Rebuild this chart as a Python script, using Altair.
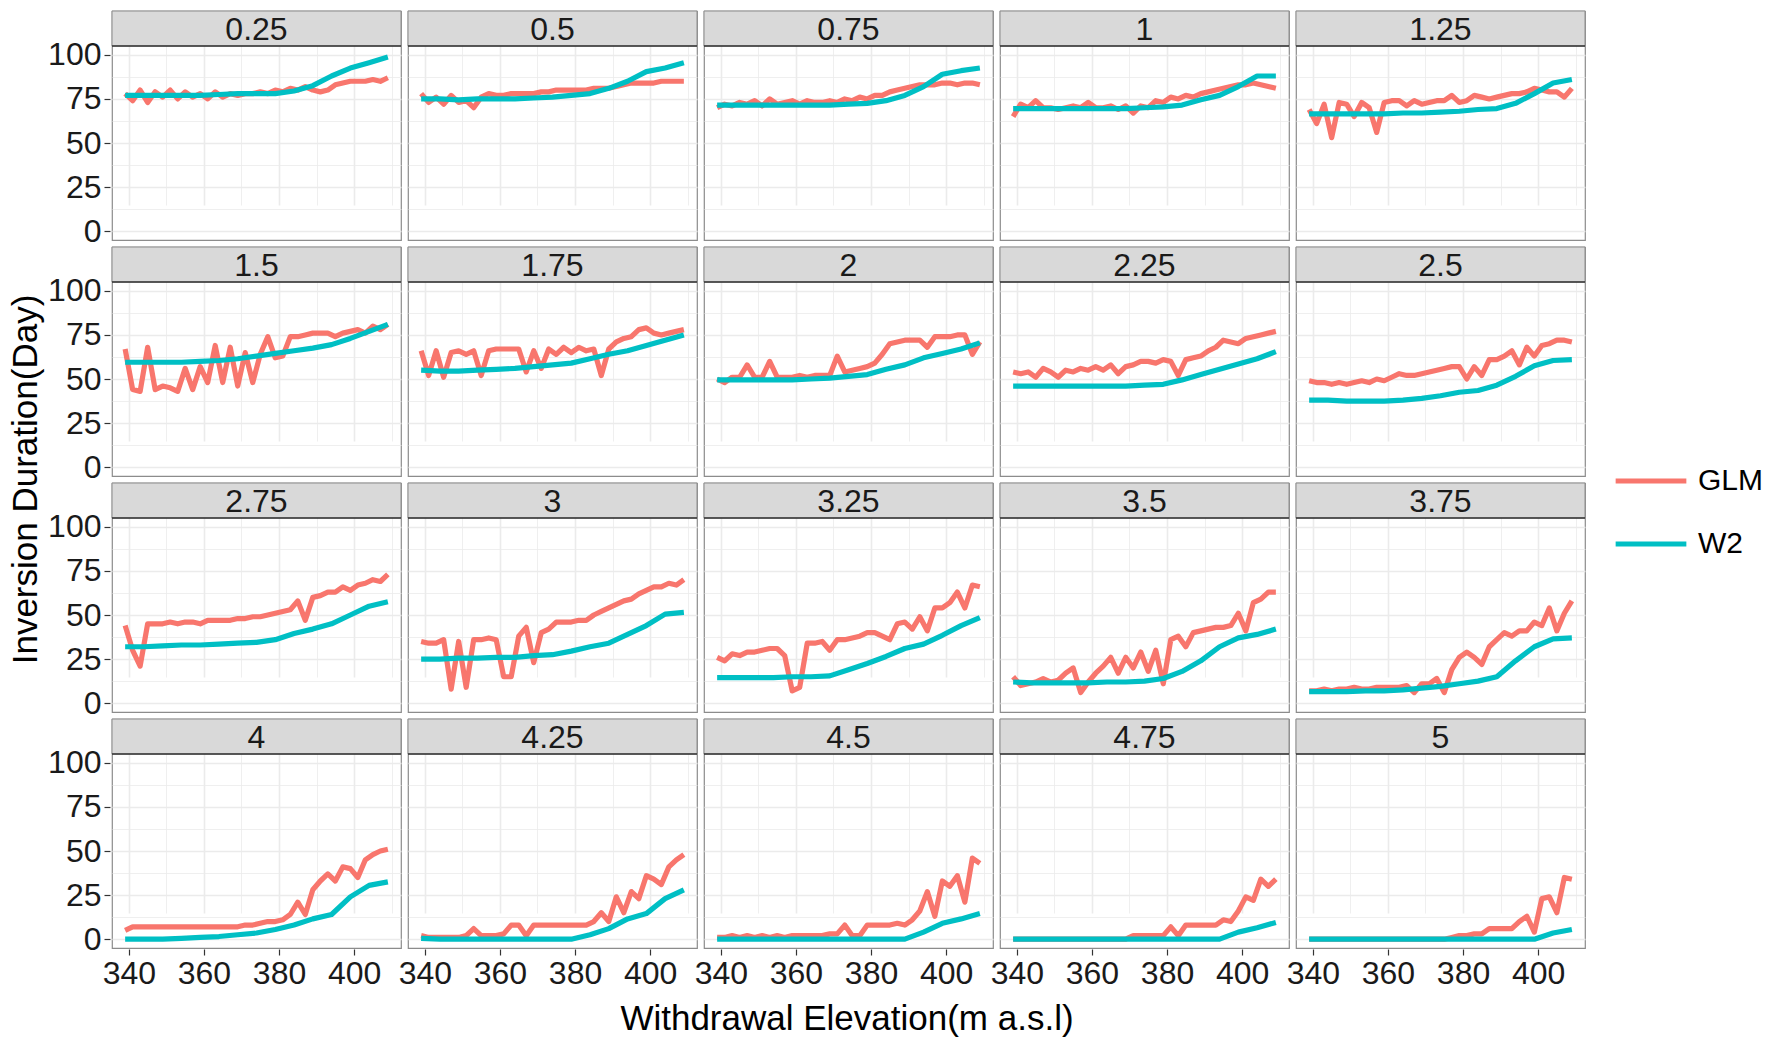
import altair as alt
import pandas as pd

PANELS = ["0.25", "0.5", "0.75", "1", "1.25", "1.5", "1.75", "2", "2.25", "2.5",
          "2.75", "3", "3.25", "3.5", "3.75", "4", "4.25", "4.5", "4.75", "5"]

ELEV_GLM = [339, 341, 343, 345, 347, 349, 351, 353, 355, 357, 359, 361, 363, 365, 367, 369, 371, 373,
            375, 377, 379, 381, 383, 385, 387, 389, 391, 393, 395, 397, 399, 401, 403, 405, 407, 409]
ELEV_W2 = [339, 344, 349, 354, 359, 364, 369, 374, 379, 384, 389, 394, 399, 404, 409]

GLM = {
    "0.25": [78, 74, 80, 73, 79, 76, 80, 75, 79, 76, 78, 75, 79, 76, 78, 77, 78, 78, 79, 78, 80, 79, 81, 80, 82, 80, 79, 80, 83, 84, 85, 85, 85, 86, 85, 87],
    "0.5": [78, 73, 76, 72, 77, 73, 74, 70, 76, 78, 77, 77, 78, 78, 78, 78, 79, 79, 80, 80, 80, 80, 80, 81, 81, 81, 82, 83, 84, 84, 84, 84, 85, 85, 85, 85],
    "0.75": [70, 72, 71, 73, 72, 74, 71, 75, 72, 73, 74, 72, 74, 73, 73, 74, 73, 75, 74, 76, 75, 77, 77, 79, 80, 81, 82, 83, 83, 83, 84, 84, 83, 84, 84, 83],
    "1": [65, 72, 70, 74, 70, 70, 69, 70, 71, 70, 73, 70, 70, 71, 69, 71, 67, 71, 70, 74, 73, 76, 75, 77, 76, 78, 79, 80, 81, 82, 83, 83, 84, 83, 82, 81],
    "1.25": [69, 61, 72, 53, 73, 72, 65, 73, 70, 56, 73, 74, 74, 71, 74, 72, 73, 74, 74, 77, 73, 74, 77, 76, 75, 76, 77, 78, 78, 79, 81, 80, 79, 79, 76, 81],
    "1.5": [67, 44, 43, 68, 44, 46, 45, 43, 56, 44, 57, 48, 69, 48, 68, 46, 65, 48, 64, 74, 62, 63, 74, 74, 75, 76, 76, 76, 74, 76, 77, 78, 76, 80, 78, 81],
    "1.75": [66, 52, 66, 51, 65, 66, 64, 66, 52, 66, 67, 67, 67, 67, 54, 66, 56, 67, 64, 68, 65, 68, 66, 67, 52, 67, 71, 73, 74, 78, 79, 76, 75, 76, 77, 78],
    "2": [50, 48, 51, 51, 58, 51, 51, 60, 51, 51, 51, 52, 51, 52, 52, 52, 63, 54, 55, 56, 57, 59, 64, 70, 71, 72, 72, 72, 68, 74, 74, 74, 75, 75, 64, 71],
    "2.25": [54, 53, 54, 51, 56, 54, 51, 55, 54, 56, 55, 57, 55, 58, 53, 57, 58, 60, 60, 59, 61, 60, 52, 61, 62, 63, 66, 68, 72, 71, 70, 73, 74, 75, 76, 77],
    "2.5": [49, 48, 48, 47, 48, 47, 48, 49, 48, 50, 49, 51, 53, 52, 52, 53, 54, 55, 56, 57, 57, 50, 57, 52, 61, 61, 63, 66, 58, 68, 63, 69, 70, 72, 72, 71],
    "2.75": [44, 30, 21, 45, 45, 45, 46, 45, 46, 46, 45, 47, 47, 47, 47, 48, 48, 49, 49, 50, 51, 52, 53, 58, 47, 60, 61, 63, 63, 66, 64, 67, 68, 70, 69, 73],
    "3": [35, 34, 34, 36, 8, 35, 9, 36, 36, 37, 36, 15, 15, 38, 43, 23, 40, 42, 46, 46, 46, 47, 47, 50, 52, 54, 56, 58, 59, 62, 64, 66, 66, 68, 67, 70],
    "3.25": [26, 24, 28, 27, 29, 29, 30, 31, 31, 27, 7, 9, 34, 34, 35, 30, 36, 36, 37, 38, 40, 40, 38, 36, 45, 46, 42, 49, 41, 54, 54, 57, 63, 54, 67, 66],
    "3.5": [15, 10, 11, 12, 14, 12, 13, 17, 20, 6, 12, 17, 21, 26, 17, 26, 20, 29, 18, 30, 11, 36, 38, 32, 40, 41, 42, 43, 43, 44, 51, 41, 57, 59, 63, 63],
    "3.75": [7, 7, 8, 7, 8, 8, 9, 8, 8, 9, 9, 9, 9, 10, 6, 11, 11, 14, 6, 19, 26, 29, 26, 22, 32, 36, 40, 38, 41, 41, 46, 44, 54, 41, 51, 58],
    "4": [5, 7, 7, 7, 7, 7, 7, 7, 7, 7, 7, 7, 7, 7, 7, 7, 8, 8, 9, 10, 10, 11, 14, 21, 14, 28, 33, 37, 33, 41, 40, 35, 45, 48, 50, 51],
    "4.25": [2, 1, 1, 1, 1, 1, 2, 6, 2, 2, 2, 3, 8, 8, 2, 8, 8, 8, 8, 8, 8, 8, 8, 10, 15, 10, 24, 15, 27, 23, 36, 34, 31, 41, 45, 48],
    "4.5": [1, 1, 2, 1, 2, 1, 2, 1, 2, 1, 2, 2, 2, 2, 2, 3, 3, 8, 2, 2, 8, 8, 8, 8, 9, 8, 11, 16, 27, 13, 33, 30, 36, 21, 46, 43],
    "4.75": [0, 0, 0, 0, 0, 0, 0, 0, 0, 0, 0, 0, 0, 0, 0, 0, 2, 2, 2, 2, 2, 7, 2, 8, 8, 8, 8, 8, 11, 10, 16, 24, 22, 34, 30, 34],
    "5": [0, 0, 0, 0, 0, 0, 0, 0, 0, 0, 0, 0, 0, 0, 0, 0, 0, 0, 0, 1, 2, 2, 3, 3, 6, 6, 6, 6, 10, 13, 4, 23, 24, 15, 35, 34],
}

W2 = {
    "0.25": [77, 77, 77, 77, 77, 77.5, 78, 78, 78, 79.5, 82.5, 88, 92.5, 95.5, 98.7],
    "0.5": [75, 75, 74.5, 75, 75, 75, 75.5, 76, 77, 78, 81, 85, 90.5, 92.5, 95.5],
    "0.75": [71.5, 71.5, 71.5, 71.5, 71.5, 71.5, 71.5, 72, 72.5, 74, 77, 82, 89, 91, 92.5],
    "1": [69.5, 69.5, 69.5, 69.5, 69.5, 69.5, 69.5, 70, 70.5, 71.5, 74.5, 77, 82, 88, 88],
    "1.25": [66.5, 66.5, 66.5, 66.5, 66.5, 67, 67, 67.5, 68, 69, 69.5, 72.5, 78, 84, 86],
    "1.5": [59.5, 59.5, 59.5, 59.5, 60, 60.5, 61.5, 63, 64.5, 66, 67.5, 69.5, 73, 77, 81],
    "1.75": [55, 54.5, 54.5, 55, 55.5, 56, 57, 58, 59, 61.5, 64, 66, 69, 72, 75],
    "2": [49.5, 49.5, 49.5, 49.5, 49.5, 50, 50.5, 51.5, 52.5, 55.5, 58, 62, 64.5, 67, 70.5],
    "2.25": [46, 46, 46, 46, 46, 46, 46, 46.5, 47, 49.5, 52.5, 55.5, 58.5, 61.5, 65.5],
    "2.5": [38, 38, 37.5, 37.5, 37.5, 38, 39, 40.5, 42.5, 43.5, 46.5, 51.5, 57.5, 60.5, 61],
    "2.75": [32, 32, 32.5, 33, 33, 33.5, 34, 34.5, 36, 39.5, 42, 45, 50, 55, 57.5],
    "3": [25, 25, 25.5, 25.5, 26, 26, 27, 27.5, 29.5, 32, 34, 39, 44, 50.5, 51.5],
    "3.25": [14.5, 14.5, 14.5, 14.5, 15, 15, 15.5, 19, 22.5, 26.5, 31, 33.5, 38.5, 44, 48.5],
    "3.5": [12, 11.5, 11.5, 11.5, 11.5, 12, 12, 12.5, 14, 18, 24, 32, 37, 39, 42],
    "3.75": [6.5, 6.5, 6.5, 7, 7, 7.5, 8.5, 9.5, 11, 12.5, 15, 24, 32, 36.5, 37],
    "4": [0, 0, 0, 0.5, 1, 1.5, 2.5, 3.5, 5.5, 8, 11.5, 14, 24, 30.5, 32.5],
    "4.25": [0.5, 0, 0, 0, 0, 0, 0, 0, 0, 2.5, 6, 11.5, 14.5, 23, 28],
    "4.5": [0, 0, 0, 0, 0, 0, 0, 0, 0, 0, 0, 4, 9, 11.5, 14.5],
    "4.75": [0, 0, 0, 0, 0, 0, 0, 0, 0, 0, 0, 0, 4, 6.5, 9.5],
    "5": [0, 0, 0, 0, 0, 0, 0, 0, 0, 0, 0, 0, 0, 3.5, 5.5],
}

X_TICKS = [340, 350, 360, 370, 380, 390, 400, 410]
Y_TICKS = [0, 12.5, 25, 37.5, 50, 62.5, 75, 87.5, 100]
MODELS = ["GLM", "W2"]
COLORS = ["#F8766D", "#00BFC4"]
X_TITLE = "Withdrawal Elevation(m a.s.l)"
Y_TITLE = "Inversion Duration(Day)"

rows = []
for p in PANELS:
    assert len(GLM[p]) == len(ELEV_GLM), p
    assert len(W2[p]) == len(ELEV_W2), p
    for x, v in zip(ELEV_GLM, GLM[p]):
        rows.append({"panel": p, "elev": x, "dur": v, "model": "GLM"})
    for x, v in zip(ELEV_W2, W2[p]):
        rows.append({"panel": p, "elev": x, "dur": v, "model": "W2"})
df = pd.DataFrame(rows)

CW, CH, STRIP, GAP = 289, 229, 35, 3
GRID_H = 4 * CH + 3 * 7
FONT = "Liberation Sans"
YT_W = 34
HSPACE = 2
TICK_FS = 32

x_axis = alt.Axis(
    values=X_TICKS,
    labelExpr="datum.value % 20 == 0 ? datum.label : ''",
    gridWidth={"condition": {"test": "datum.value % 20 == 0", "value": 1.6}, "value": 0.8},
    tickOpacity={"condition": {"test": "datum.value % 20 == 0", "value": 1}, "value": 0},
    gridColor="#EBEBEB", domain=False, tickColor="#333333", tickSize=6, tickWidth=1.2,
    labelFontSize=TICK_FS, labelFont=FONT, labelColor="#1A1A1A", labelPadding=3,
    labelFlush=False, labelOverlap=False, title=None,
)
y_axis = alt.Axis(
    values=Y_TICKS,
    labelExpr="datum.value % 25 == 0 ? datum.label : ''",
    gridWidth={"condition": {"test": "datum.value % 25 == 0", "value": 1.6}, "value": 0.8},
    tickOpacity={"condition": {"test": "datum.value % 25 == 0", "value": 1}, "value": 0},
    gridColor="#EBEBEB", domain=False, tickColor="#333333", tickSize=6, tickWidth=1.2,
    labelFontSize=TICK_FS, labelFont=FONT, labelColor="#1A1A1A", labelPadding=3,
    labelFlush=False, labelOverlap=False, title=None,
)

base = alt.Chart(df)

lines = base.mark_line(strokeWidth=5.2, strokeJoin="round").encode(
    x=alt.X("elev:Q", scale=alt.Scale(domain=[335.5, 412.5], nice=False, zero=False), axis=x_axis),
    y=alt.Y("dur:Q", scale=alt.Scale(domain=[-5, 105], range=[CH, STRIP], nice=False, zero=False), axis=y_axis),
    color=alt.Color(
        "model:N",
        scale=alt.Scale(domain=MODELS, range=COLORS),
        legend=alt.Legend(
            title=None, orient="none", legendX=1604, legendY=432,
            symbolType="stroke", symbolSize=5000, symbolStrokeWidth=5.2,
            labelFontSize=30, labelFont=FONT, labelColor="#000000", labelOffset=9,
            rowPadding=10,
        ),
    ),
)

one_per_panel = base.transform_filter("datum.model == 'W2' && datum.elev == 339")

strip = one_per_panel.mark_rect(fill="#D9D9D9", stroke="#8C8C8C", strokeWidth=1).encode(
    x=alt.value(0), x2=alt.value(CW), y=alt.value(0), y2=alt.value(STRIP)
)
strip_line = one_per_panel.mark_rule(color="#333333", strokeWidth=1.5).encode(
    x=alt.value(0), x2=alt.value(CW), y=alt.value(STRIP)
)
strip_text = one_per_panel.mark_text(
    font=FONT, fontSize=32, color="#1A1A1A", align="center", baseline="middle"
).encode(text="panel:N", x=alt.value(CW / 2), y=alt.value(STRIP / 2 + 1))

layered = alt.layer(lines, strip, strip_line, strip_text).properties(width=CW, height=CH)

facet = layered.facet(
    facet=alt.Facet(
        "panel:N", sort=PANELS, title=None,
        header=alt.Header(labels=False, labelFontSize=1, labelPadding=0, labelColor="transparent"),
    ),
    columns=5,
    spacing=GAP,
)

ytitle = alt.Chart(pd.DataFrame({"t": [Y_TITLE]})).mark_text(
    font=FONT, fontSize=35, angle=270, color="#000000", align="center", baseline="middle"
).encode(text="t:N", x=alt.value(YT_W / 2), y=alt.value(GRID_H / 2)).properties(
    width=YT_W, height=GRID_H, view=alt.ViewBackground(stroke="transparent")
)

xtitle = alt.Chart(pd.DataFrame({"t": [X_TITLE]})).mark_text(
    font=FONT, fontSize=35, color="#000000", align="center", baseline="middle"
).encode(
    text="t:N",
    x=alt.value(838),
    y=alt.value(29),
).properties(
    width=1580, height=48,
    view=alt.ViewBackground(stroke="transparent"),
)

top = alt.hconcat(ytitle, facet, spacing=HSPACE)
chart = alt.vconcat(top, xtitle, spacing=0).properties(padding=0).configure_view(
    stroke="#8C8C8C", strokeWidth=1.2
).configure_header(labels=False, labelPadding=0)

chart.save("out.html", embed_options={"renderer": "svg", "actions": False})
